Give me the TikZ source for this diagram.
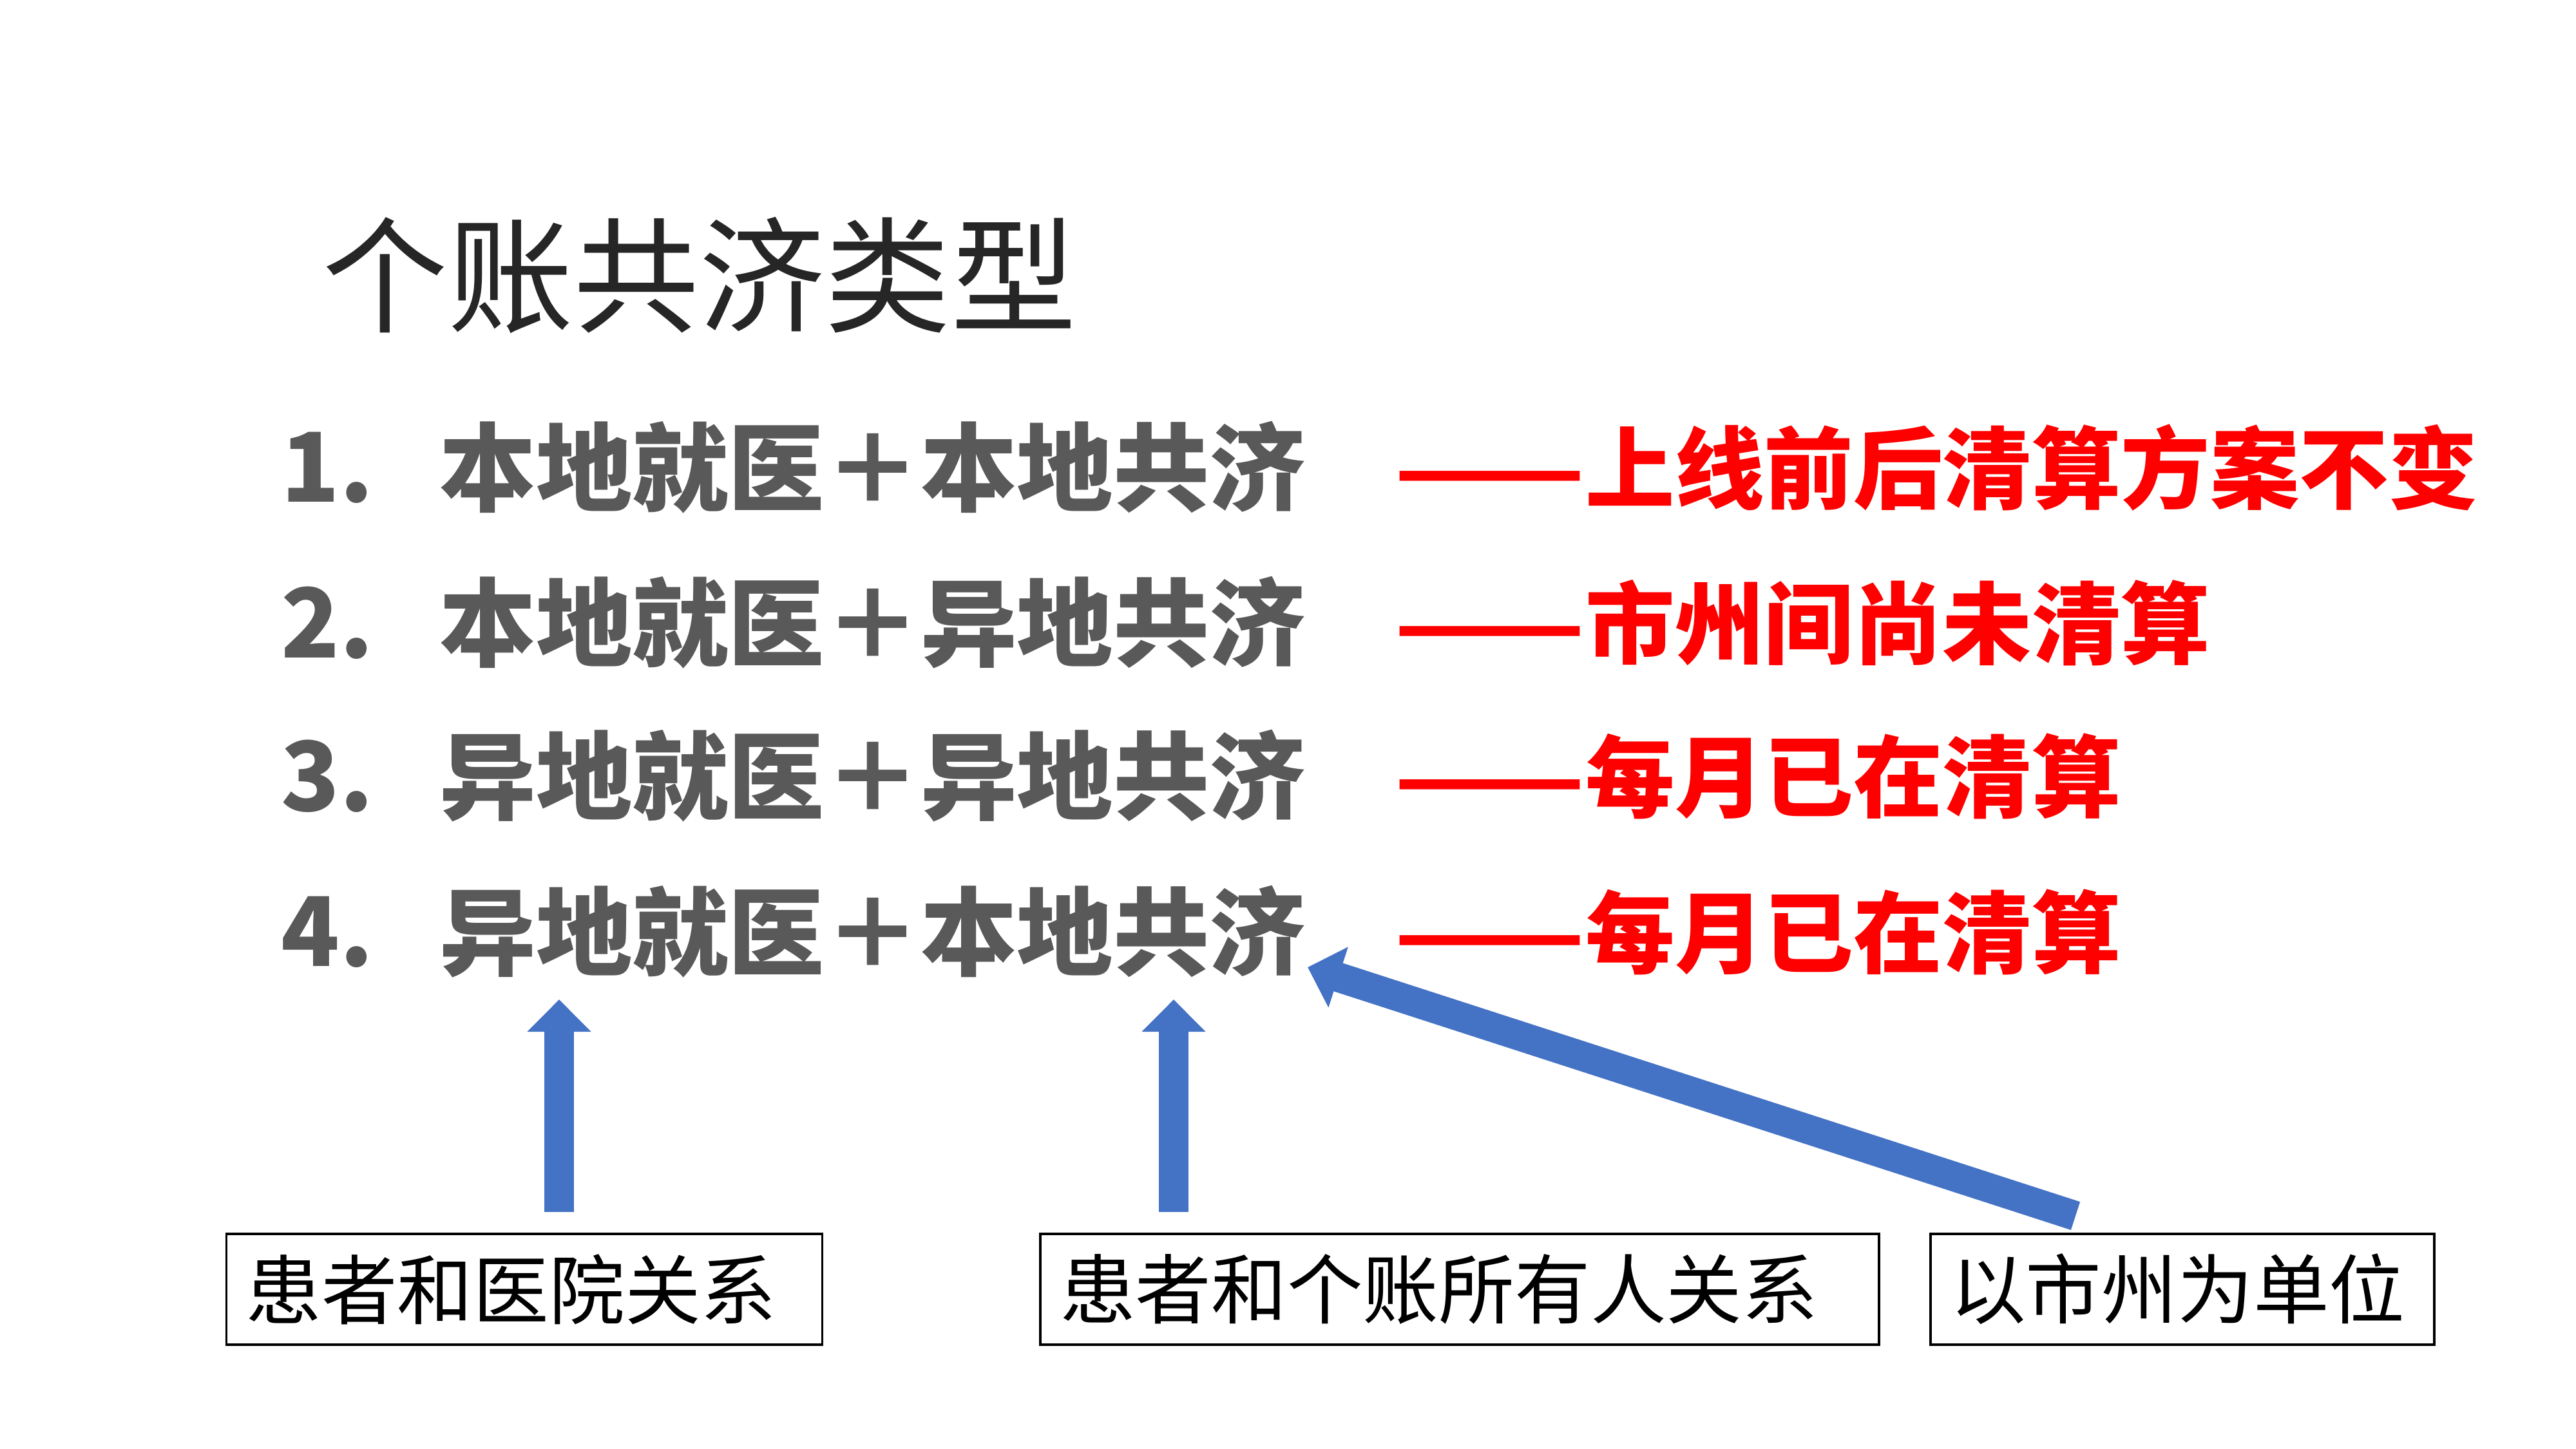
\documentclass[tikz,border=0pt]{standalone}
\usepackage{fontspec}
\newfontfamily\cjk{Noto Sans CJK SC}
\usetikzlibrary{arrows.meta}
\definecolor{itemgray}{HTML}{595959}
\definecolor{noteRed}{HTML}{FF0000}
\definecolor{arrowblue}{HTML}{4472C4}
\definecolor{titledark}{HTML}{262626}
\newcommand{\longdash}{\scalebox{1.25}[1]{——}}

\begin{document}
\begin{tikzpicture}[
    titletext/.style={anchor=west, inner sep=0pt, text=titledark, font=\cjk\fontsize{55.5}{62}\selectfont},
    itemtext/.style={anchor=west, inner sep=0pt, text=itemgray, font=\cjk\bfseries\fontsize{42.5}{50}\selectfont},
    notetext/.style={anchor=west, inner sep=0pt, text=noteRed, font=\cjk\bfseries\fontsize{39.4}{46}\selectfont},
    labelbox/.style={draw, rectangle, line width=1pt, minimum height=1.72cm, inner xsep=0.3cm, align=left, font=\cjk\fontsize{33.5}{40}\selectfont},
    blockarrow/.style={draw=arrowblue, line width=0.46cm, -{Triangle[length=0.5cm, width=0.96cm]}}
  ]
  \useasboundingbox (0,0) rectangle (39.99,-22.5);

  % title
  \node[titletext] (title) at (5.0,-4.28) {个账共济类型};

  % the four types and their notes
  \foreach \n/\lhs/\rhs/\y in {1/本地就医＋本地共济/上线前后清算方案不变/-7.26,
                                2/本地就医＋异地共济/市州间尚未清算/-9.67,
                                3/异地就医＋异地共济/每月已在清算/-12.05,
                                4/异地就医＋本地共济/每月已在清算/-14.47} {
    \node[itemtext] (num\n) at (4.36,\y) {\n.};
    \node[itemtext] (row\n) at (6.82,\y) {\lhs};
    \node[notetext] (note\n) at (21.64,\y) {\longdash\rhs};
  }

  % what each part refers to
  \node[labelbox, text width=8.65cm] (hosp) at (8.14,-20.02) {患者和医院关系};
  \node[labelbox, text width=12.42cm] (owner) at (22.66,-20.02) {患者和个账所有人关系};
  \node[labelbox, text width=7.22cm] (city) at (33.88,-20.02) {以市州为单位};

  \coordinate (hospTail) at (8.68,-18.82);
  \coordinate (hospTip) at (8.68,-15.52);
  \coordinate (ownerTail) at (18.22,-18.82);
  \coordinate (ownerTip) at (18.22,-15.52);
  \coordinate (cityTail) at (32.22,-18.88);
  \coordinate (cityTip) at (20.30,-15.02);

  \draw[blockarrow] (hospTail) -- (hospTip);
  \draw[blockarrow] (ownerTail) -- (ownerTip);
  \draw[blockarrow] (cityTail) -- (cityTip);
\end{tikzpicture}
\end{document}
